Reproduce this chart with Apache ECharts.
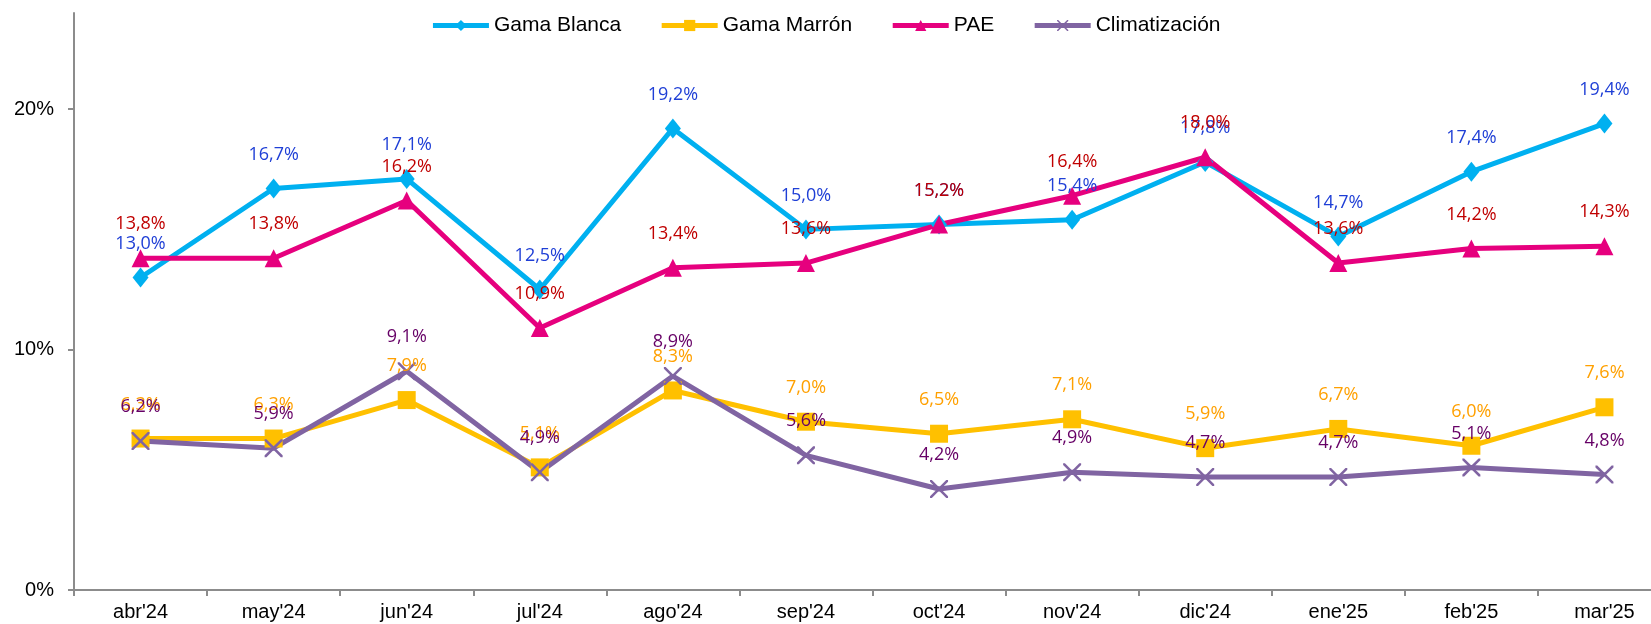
<!DOCTYPE html>
<html><head><meta charset="utf-8">
<script src="https://cdn.jsdelivr.net/npm/echarts@6/dist/echarts.min.js"></script>
<style>html,body{margin:0;padding:0;background:#fff}#c{width:1651px;height:624px}</style>
</head><body><div id="c"></div>
<script>
const categories = ["abr'24","may'24","jun'24","jul'24","ago'24","sep'24","oct'24","nov'24","dic'24","ene'25","feb'25","mar'25"];
const gamaBlanca = [13.0,16.7,17.1,12.5,19.2,15.0,15.2,15.4,17.8,14.7,17.4,19.4];
const gamaMarron = [6.3,6.3,7.9,5.1,8.3,7.0,6.5,7.1,5.9,6.7,6.0,7.6];
const pae = [13.8,13.8,16.2,10.9,13.4,13.6,15.2,16.4,18.0,13.6,14.2,14.3];
const climatizacion = [6.2,5.9,9.1,4.9,8.9,5.6,4.2,4.9,4.7,4.7,5.1,4.8];
const yTicks = [0,10,20];

const xPath = 'path://M0,0 L2,0 L10,8 L18,0 L20,0 L20,2 L12,10 L20,18 L20,20 L18,20 L10,12 L2,20 L0,20 L0,18 L8,10 L0,2 Z';
const fmt = p => p.value.toFixed(1).replace('.', ',') + '%';
function mk(name, data, color, labelColor, symbol, size) {
  return {
    name, type: 'line', data, symbol, symbolSize: size,
    lineStyle: {color, width: 5}, itemStyle: {color},
    label: {show: true, position: 'inside', offset: [0, -34], formatter: fmt,
      color: labelColor, fontFamily: 'Open Sans', fontSize: 18},
    emphasis: {disabled: true}
  };
}
const chart = echarts.init(document.getElementById('c'));
chart.setOption({
  animation: false,
  legend: {
    top: 10, left: 'center', itemWidth: 56, itemHeight: 14, itemGap: 38,
    lineStyle: {width: 5},
    textStyle: {fontFamily: 'Liberation Sans', fontSize: 21, color: '#000'},
    data: ['Gama Blanca','Gama Marrón','PAE','Climatización']
  },
  grid: {left: 74, width: 1597, top: 13, bottom: 34, outerBoundsMode: 'none', containLabel: false},
  xAxis: {
    type: 'category', data: categories, boundaryGap: true,
    axisLine: {lineStyle: {color: '#8c8c8c', width: 2}},
    axisTick: {show: true, length: 6, lineStyle: {color: '#8c8c8c', width: 2}},
    axisLabel: {fontFamily: 'Liberation Sans', fontSize: 20, color: '#000', margin: 12}
  },
  yAxis: {
    type: 'value', min: 0, max: 24, interval: 10,
    splitLine: {show: false},
    axisLine: {show: true, lineStyle: {color: '#8c8c8c', width: 2}},
    axisTick: {show: true, length: 6, customValues: yTicks, lineStyle: {color: '#8c8c8c', width: 2}},
    axisLabel: {customValues: yTicks, formatter: v => v + '%', fontFamily: 'Liberation Sans', fontSize: 20, color: '#000', margin: 20}
  },
  series: [
    mk('Gama Blanca', gamaBlanca, '#00B0F0', '#1F3FD6', 'diamond', [16, 20]),
    mk('Gama Marrón', gamaMarron, '#FFC000', '#FFA000', 'rect', 18),
    mk('PAE', pae, '#E6007E', '#C00000', 'triangle', 18),
    mk('Climatización', climatizacion, '#8064A2', '#660066', xPath, [18, 18])
  ]
});
</script></body></html>
